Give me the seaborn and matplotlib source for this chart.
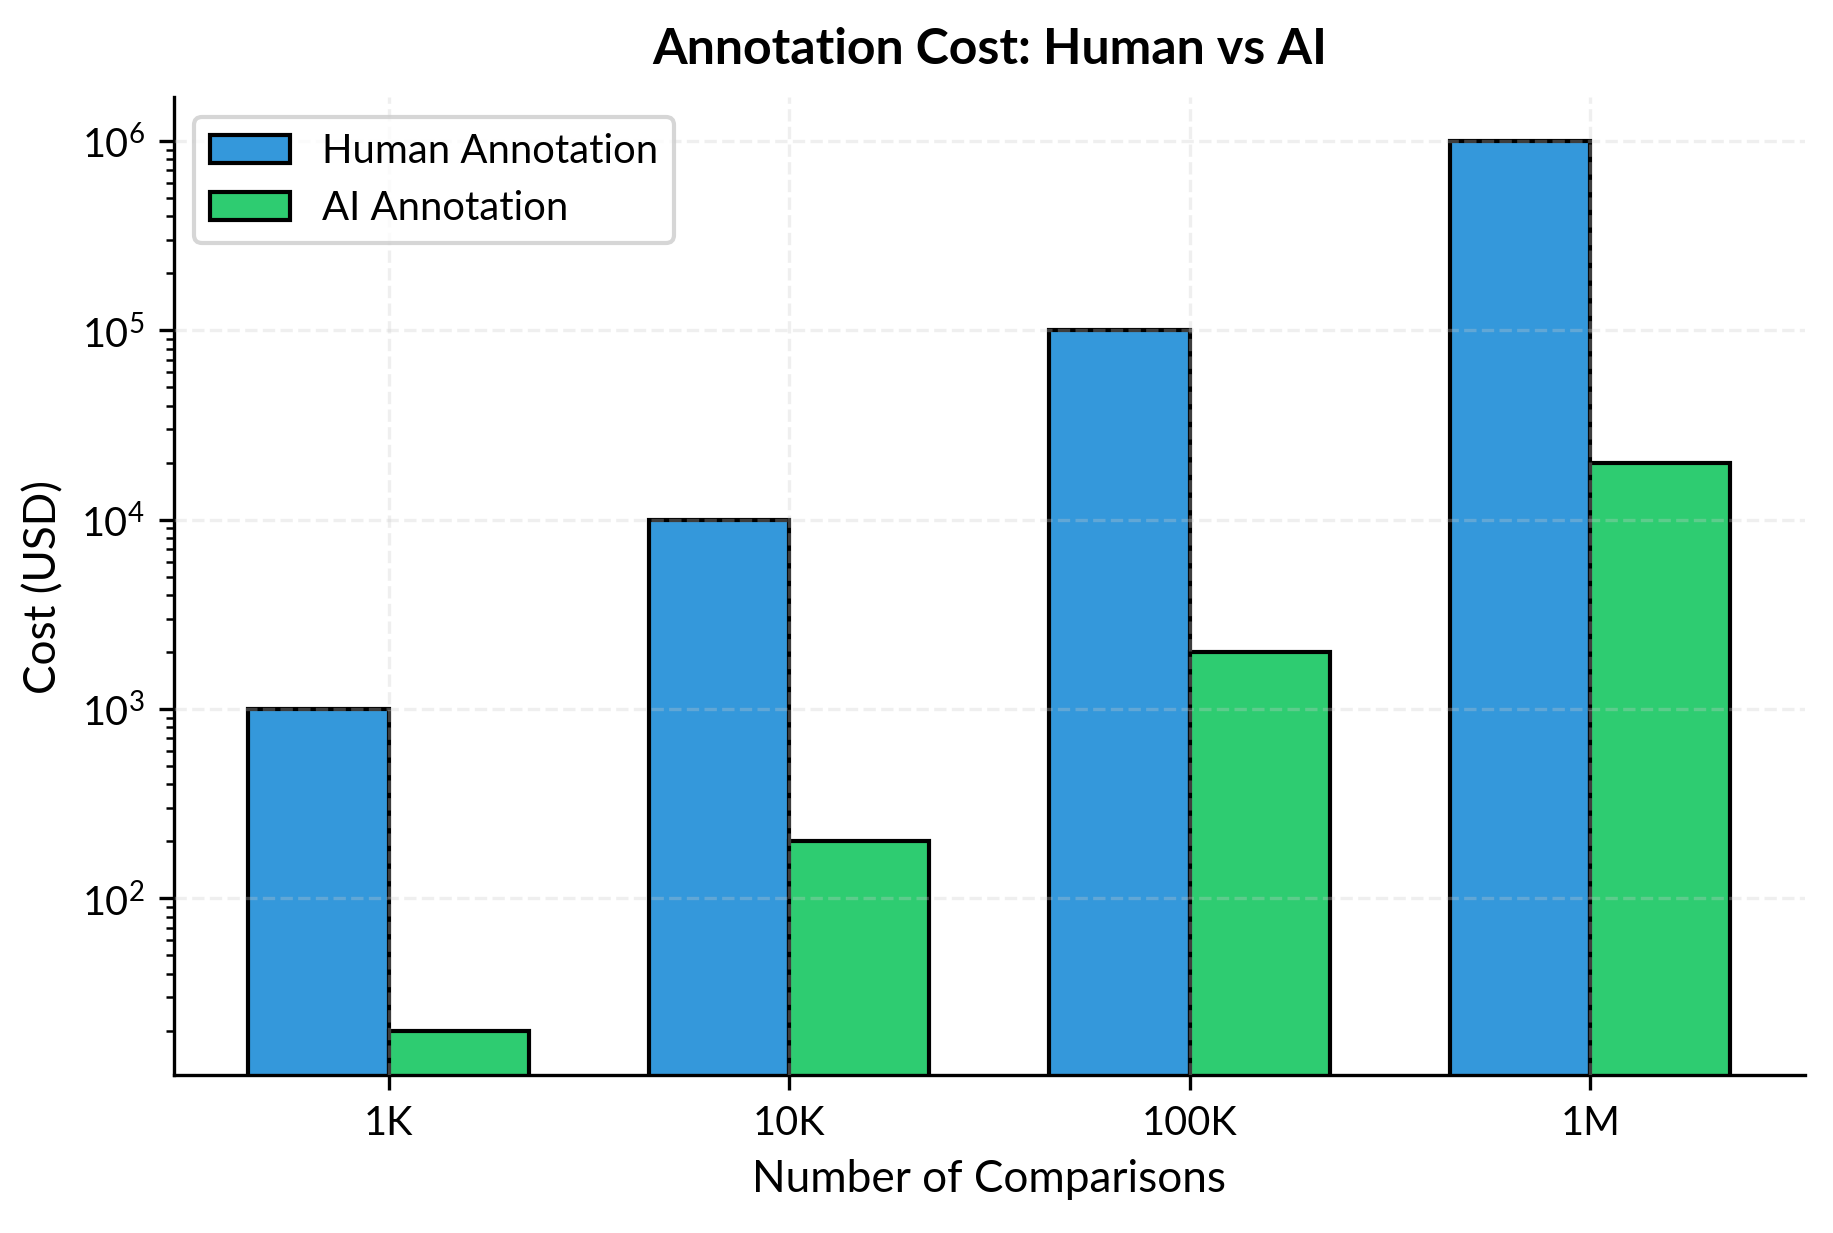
import numpy as np
import pandas as pd
import matplotlib
matplotlib.use('Agg')
import matplotlib.pyplot as plt
import seaborn as sns

# values
comparisons = ['1K', '10K', '100K', '1M']
human_cost = [1000, 10000, 100000, 1000000]
ai_cost = [20, 200, 2000, 20000]
series = ['Human Annotation', 'AI Annotation']
colors = ['#3498db', '#2ecc71']

df = pd.DataFrame({
    'comparisons': comparisons * 2,
    'cost': human_cost + ai_cost,
    'method': [series[0]] * len(comparisons) + [series[1]] * len(comparisons),
})

sns.set_style('ticks', {'axes.edgecolor': 'black', 'text.color': 'black',
                        'axes.labelcolor': 'black', 'xtick.color': 'black',
                        'ytick.color': 'black'})
plt.rcParams['font.family'] = ['Lato', 'DejaVu Sans']

bar_width = 0.7
fig, ax = plt.subplots(figsize=(6.113, 4.113), dpi=300)
sns.barplot(data=df, x='comparisons', y='cost', hue='method',
            order=comparisons, hue_order=series, palette=colors,
            width=bar_width, edgecolor='black', linewidth=1.0, saturation=1,
            ax=ax)
ax.set_yscale('log')

# same 5% margins matplotlib would give
lo = np.log10(min(ai_cost))
hi = np.log10(max(human_cost))
pad = 0.05 * (hi - lo)
ax.set_ylim(10 ** (lo - pad), 10 ** (hi + pad))
x0, x1 = -bar_width / 2, len(comparisons) - 1 + bar_width / 2
xpad = 0.05 * (x1 - x0)
ax.set_xlim(x0 - xpad, x1 + xpad)

ax.set_title('Annotation Cost: Human vs AI', fontsize=12, fontweight='bold', pad=8)
ax.set_xlabel('Number of Comparisons', fontsize=10.6)
ax.set_ylabel('Cost (USD)', fontsize=10.6)
ax.tick_params(axis='both', labelsize=9.5)
ax.grid(True, linestyle='--', alpha=0.3)
ax.set_axisbelow(False)
sns.despine(ax=ax)

leg = ax.legend(loc='upper left', fontsize=9.6, frameon=True)
leg.set_title(None)

fig.subplots_adjust(left=0.095, right=0.984, top=0.921, bottom=0.128)
fig.savefig('out.png', dpi=300)
